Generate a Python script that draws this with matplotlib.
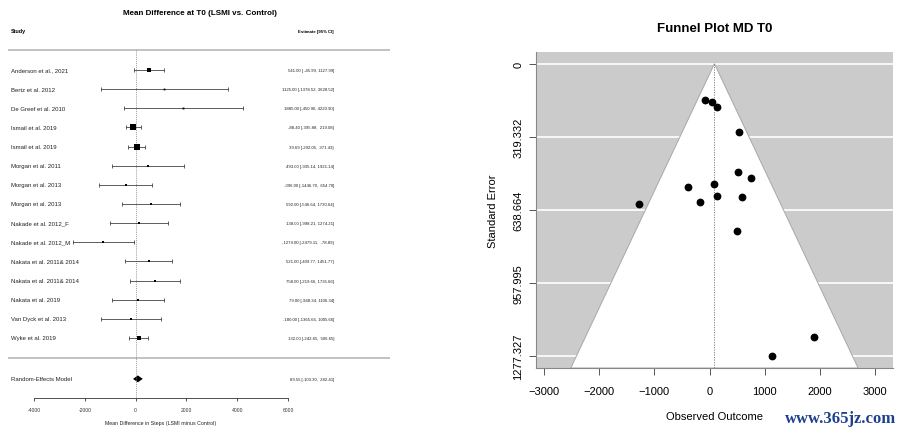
import matplotlib
matplotlib.use("Agg")
import matplotlib.pyplot as plt
import numpy as np

plt.rcParams['font.family'] = ['Liberation Sans', 'DejaVu Sans']

# ---------------- data ----------------
studies = ["Anderson et al., 2021", "Bertz et al. 2012", "De Greef et al. 2010",
           "Ismail et al. 2019", "Ismail et al. 2019", "Morgan et al. 2011",
           "Morgan et al. 2013", "Morgan et al. 2013", "Nakade et al. 2012_F",
           "Nakade et al. 2012_M", "Nakata et al. 2011& 2014", "Nakata et al. 2011& 2014",
           "Nakata et al. 2019", "Van Dyck et al. 2013", "Wyke et al. 2019"]
estimates = [541.00, 1125.00, 1885.00, -88.40, 39.69, 493.00, -396.00, 592.00,
             138.00, -1279.00, 521.00, 758.00, 79.00, -180.00, 132.00]
ci_lower = [-45.99, -1378.52, -450.90, -395.88, -292.05, -935.14, -1446.70, -546.64,
            -998.21, -2479.11, -409.77, -219.66, -948.34, -1365.66, -242.65]
ci_upper = [1127.99, 3628.52, 4220.90, 219.08, 371.43, 1921.14, 654.70, 1730.64,
            1274.21, -78.89, 1451.77, 1735.66, 1106.34, 1005.66, 506.65]
re_label = "Random-Effects Model"
re_est = 89.55
re_lower = -103.30
re_upper = 282.41

forest_ticks = [-4000, -2000, 0, 2000, 4000, 6000]
forest_ticklabels = ["-4000", "-2000", "0", "2000", "4000", "6000"]
funnel_xticks = [-3000, -2000, -1000, 0, 1000, 2000, 3000]
funnel_yticklabels = ["0", "319.332", "638.664", "957.995", "1277.327"]

forest_title = "Mean Difference at T0 (LSMI vs. Control)"
forest_xlabel = "Mean Difference in Steps (LSMI minus Control)"
funnel_title = "Funnel Plot MD T0"

est = np.array(estimates)
lb = np.array(ci_lower)
ub = np.array(ci_upper)
se = (ub - lb) / (2 * 1.959964)
yt = np.array([float(v) for v in funnel_yticklabels])

# ---------------- figure ----------------
fig = plt.figure(figsize=(9.06, 4.35), dpi=100)

# ---------- forest plot ----------
ax = fig.add_axes([0, 0, 400 / 906, 1])
ax.set_facecolor('none')
ax.set_xlim(-5339, 10409)
ax.set_ylim(-4.02, 18.71)
k = len(studies)
rows = np.arange(k, 0, -1)  # 15 .. 1

xl_text = -4906
xr_text = 7811
sep_l, sep_r = -5024, 10016
txt_col = '#222222'
est_fs = 3.05

ax.text(2516, 18.03, forest_title, ha='center', va='center', fontsize=5.8, fontweight='bold')
ax.text(xl_text, 17.04, "Study", ha='left', va='center', fontsize=3.9, fontweight='bold')
ax.text(xr_text, 17.04, "Estimate [95% CI]", ha='right', va='center', fontsize=est_fs,
        fontweight='bold')
ax.plot([sep_l, sep_r], [16.04, 16.04], color='#b8b8b8', lw=1.2, solid_capstyle='butt')
ax.plot([sep_l, sep_r], [-0.03, -0.03], color='#b8b8b8', lw=1.2, solid_capstyle='butt')
ax.plot([0, 0], [16.04, -2.14], color='#777777', lw=0.5, ls=(0, (1.5, 1.5)))

w = 1 / se
ps = (w - w.min()) / (w.max() - w.min())
msize = 1.3 + 2.7 * ps
for i in range(k):
    r = rows[i]
    ax.errorbar(est[i], r, xerr=[[est[i] - lb[i]], [ub[i] - est[i]]], fmt='none',
                ecolor='#333333', elinewidth=0.55, capsize=1.4, capthick=0.55)
    ax.plot(est[i], r, marker='s', color='black', markersize=msize[i], markeredgewidth=0)
    ax.text(xl_text, r, studies[i], ha='left', va='center', fontsize=4.3, color=txt_col)
    ax.text(xr_text, r, f"{est[i]:.2f} [{lb[i]:7.2f}, {ub[i]:7.2f}]",
            ha='right', va='center', fontsize=est_fs, color=txt_col)

re_row = -1.14
dh = 0.18
ax.fill([re_lower, re_est, re_upper, re_est], [re_row, re_row + dh, re_row, re_row - dh],
        color='black', lw=0)
ax.text(xl_text, re_row, re_label, ha='left', va='center', fontsize=4.3, color=txt_col)
ax.text(xr_text, re_row, f"{re_est:.2f} [{re_lower:7.2f}, {re_upper:7.2f}]",
        ha='right', va='center', fontsize=est_fs, color=txt_col)

for s in ['top', 'right', 'left']:
    ax.spines[s].set_visible(False)
ax.spines['bottom'].set_position(('data', -2.14))
ax.spines['bottom'].set_bounds(forest_ticks[0], forest_ticks[-1])
ax.spines['bottom'].set_linewidth(0.6)
ax.spines['bottom'].set_color('#333333')
ax.set_xticks(forest_ticks)
ax.set_xticklabels(forest_ticklabels)
ax.tick_params(axis='x', labelsize=3.6, length=2.5, width=0.6, pad=4, colors='#333333')
ax.set_yticks([])
ax.text(1000, -3.44, forest_xlabel, ha='center', va='center', fontsize=3.8, color=txt_col)

# ---------- funnel plot ----------
fx = fig.add_axes([536 / 906, (435 - 369) / 435, 357 / 906, 316 / 435])
maxse = se.max()
ybot = maxse * 1.04
ytop = -0.04 * maxse
fx.set_xlim(-3145, 3326)
fx.set_ylim(ybot, ytop)
fx.set_facecolor('#cbcbcb')
for y in yt:
    fx.axhline(y, color='white', lw=1.2, zorder=1)
fx.fill([re_est - 1.959964 * ybot, re_est, re_est + 1.959964 * ybot],
        [ybot, 0, ybot], facecolor='white', edgecolor='#a8a8a8', lw=0.7, zorder=2)
fx.plot([re_est, re_est], [0, ybot], color='#777777', lw=0.6, ls=(0, (1.5, 1.5)), zorder=3)
fx.plot(est, se, 'o', color='black', markersize=4.6, zorder=4)

fx.set_yticks(yt)
fx.set_yticklabels(funnel_yticklabels, rotation=90, va='center')
fx.set_xticks(funnel_xticks)
for s in ['top', 'right']:
    fx.spines[s].set_visible(False)
fx.spines['left'].set_color('#888888')
fx.spines['bottom'].set_color('#888888')
fx.tick_params(axis='both', labelsize=8, length=5, width=0.7, color='#555555')
fx.tick_params(axis='x', pad=8)
fx.tick_params(axis='y', pad=4)
fx.set_ylabel("Standard Error", fontsize=8, labelpad=11)
fx.set_xlabel("Observed Outcome", fontsize=8, labelpad=11)
fx.set_title(funnel_title, fontsize=9.5, fontweight='bold', pad=15)

fig.text(841 / 906, 1 - 419 / 435, "www.365jz.com", ha='center', va='center',
         fontsize=12, fontweight='bold', color='#1f3f8f', family='Liberation Serif')

fig.savefig("out.png", dpi=100)
